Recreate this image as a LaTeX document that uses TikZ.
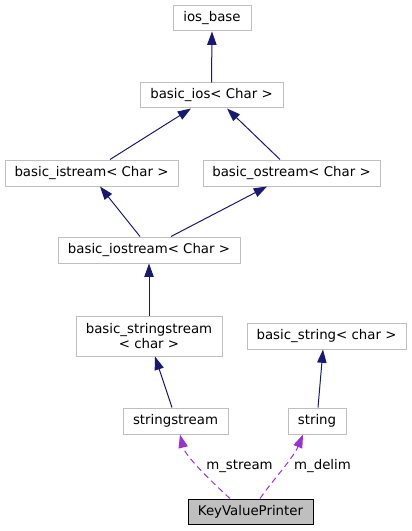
\documentclass[tikz,border=0pt]{standalone}
\usepackage{fontspec}
\setmainfont{DejaVu Sans}
\usetikzlibrary{arrows.meta,calc}
\definecolor{boxgray}{HTML}{BFBFBF}
\definecolor{inhblue}{HTML}{191970}
\definecolor{usepurple}{HTML}{9A32CD}
\begin{document}
\begin{tikzpicture}[x=0.75pt,y=-0.75pt,
  cls/.style={draw=boxgray,line width=0.75pt,fill=white,inner sep=0pt,
    font=\fontsize{10}{11}\selectfont,align=center},
  focus/.style={cls,draw=black,fill=boxgray},
  inh/.style={draw=inhblue,line width=0.75pt,-{Triangle[length=10pt,width=7pt]}},
  use/.style={draw=usepurple,line width=0.75pt,dash pattern=on 4.5pt off 3pt,
    -{Triangle[length=10pt,width=7pt]}},
  lbl/.style={font=\fontsize{10}{12}\selectfont,inner sep=0pt}]
\useasboundingbox (0,0) rectangle (411,531);
\node[cls,minimum width=58.5pt,minimum height=18.75pt] (iosbase) at (212,18.5) {ios\_base};
\node[cls,minimum width=107.25pt,minimum height=18.75pt] (basicios) at (211.5,95.5) {basic\_ios< Char >};
\node[cls,minimum width=129.75pt,minimum height=19.5pt] (istream) at (91.5,173) {basic\_istream< Char >};
\node[cls,minimum width=132.75pt,minimum height=19.5pt] (ostream) at (291.5,173) {basic\_ostream< Char >};
\node[cls,minimum width=136.5pt,minimum height=19.5pt] (iostream) at (149,250) {basic\_iostream< Char >};
\node[cls,minimum width=109.5pt,minimum height=30pt] (sstreamt) at (149,336) {basic\_stringstream\\< char >};
\node[cls,minimum width=119.25pt,minimum height=19.5pt] (bstring) at (326.5,336) {basic\_string< char >};
\node[cls,minimum width=78.75pt,minimum height=19.5pt] (sstream) at (175.5,421) {stringstream};
\node[cls,minimum width=43.5pt,minimum height=19.5pt] (string) at (317,421) {string};
\node[focus,minimum width=93.75pt,minimum height=18.75pt] (kvp) at (250.5,511.5) {KeyValuePrinter};

\draw[inh] (basicios.north) -- (iosbase.south);
\draw[inh] ($(istream.north)+(18.5,0)$) -- ($(basicios.south)+(-20.5,0)$);
\draw[inh] ($(ostream.north)+(-11.5,0)$) -- ($(basicios.south)+(15.5,0)$);
\draw[inh] ($(iostream.north)+(-9,0)$) -- ($(istream.south)+(8.5,0)$);
\draw[inh] ($(iostream.north)+(22,0)$) -- ($(ostream.south)+(-24.5,0)$);
\draw[inh] (sstreamt.north) -- (iostream.south);
\draw[inh] ($(sstream.north)+(-3.5,0)$) -- ($(sstreamt.south)+(6,0)$);
\draw[inh] ($(string.north)+(1,0)$) -- ($(bstring.south)+(-3.5,0)$);

\draw[use] ($(kvp.north)+(-20.5,0)$) .. controls ($(kvp.north)+(-38,-16)$) and ($(sstream.south)+(10,22)$) .. ($(sstream.south)+(4.5,0)$);
\draw[use] ($(kvp.north)+(9.5,0)$) .. controls ($(kvp.north)+(22,-18)$) and ($(string.south)+(-24,24)$) .. ($(string.south)+(-14,0)$);
\node[lbl] (lstream) at (239.5,466) {m\_stream};
\node[lbl] (ldelim) at (322.5,466) {m\_delim};
\end{tikzpicture}
\end{document}
